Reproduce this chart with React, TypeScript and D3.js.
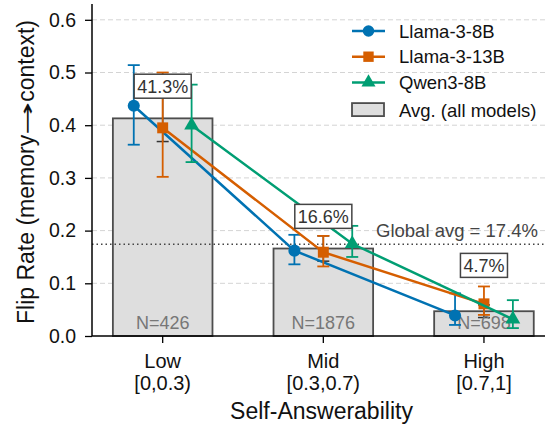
import { useRef, useEffect } from "react";
import * as d3 from "d3";

const categories = ["Low", "Mid", "High"];
const ranges = ["[0,0.3)", "[0.3,0.7)", "[0.7,1]"];
const counts = [426, 1876, 698];
const avgRate = [0.413, 0.166, 0.047];
const avgErr = [0.044, 0.024, 0.012];
const annotY = [0.474, 0.227, 0.134];
const globalAvg = 0.174;
const yTicks = [0, 0.1, 0.2, 0.3, 0.4, 0.5, 0.6];

const models = ["Llama-3-8B", "Llama-3-13B", "Qwen3-8B"];
const llama8Rate = [0.437, 0.162, 0.039];
const llama8Lo = [0.363, 0.136, 0.021];
const llama8Hi = [0.514, 0.192, 0.081];
const llama13Rate = [0.395, 0.159, 0.061];
const llama13Lo = [0.302, 0.132, 0.04];
const llama13Hi = [0.5, 0.19, 0.094];
const qwenRate = [0.4, 0.175, 0.032];
const qwenLo = [0.33, 0.15, 0.015];
const qwenHi = [0.477, 0.209, 0.068];

const colors = ["#0072B2", "#D55E00", "#009E73"];
const symbols = [d3.symbolCircle, d3.symbolSquare, d3.symbolTriangle];
const symbolSizes = [115, 120, 95];
const offsets = [-0.18, 0, 0.18];
const font = "'Liberation Sans', Arial, sans-serif";

export default function App() {
  const svgRef = useRef<SVGSVGElement>(null);

  useEffect(() => {
    if (!svgRef.current) return;
    const svg = d3.select(svgRef.current);
    svg.selectAll("*").remove();

    const left = 92, right = 545, top = 4, bottom = 336;
    const x = d3.scaleLinear().domain([-0.44, 2.38]).range([left, right]);
    const y = d3.scaleLinear().domain([0, 0.63]).range([bottom, top]);

    const series = [
      { rate: llama8Rate, lo: llama8Lo, hi: llama8Hi },
      { rate: llama13Rate, lo: llama13Lo, hi: llama13Hi },
      { rate: qwenRate, lo: qwenLo, hi: qwenHi },
    ];

    // grid
    svg.append("g")
      .selectAll("line")
      .data(yTicks.filter((t) => t > 0))
      .join("line")
      .attr("x1", left).attr("x2", right)
      .attr("y1", (d) => y(d)).attr("y2", (d) => y(d))
      .attr("stroke", "#d4d4d4").attr("stroke-width", 1)
      .attr("stroke-dasharray", "5,3");

    // bars
    const bw = 0.62;
    svg.append("g")
      .selectAll("rect")
      .data(avgRate)
      .join("rect")
      .attr("x", (_, i) => x(i - bw / 2))
      .attr("y", (d) => y(d))
      .attr("width", x(bw) - x(0))
      .attr("height", (d) => y(0) - y(d))
      .attr("fill", "#dedede")
      .attr("stroke", "#4d4d4d")
      .attr("stroke-width", 1.8);

    // bar error bars (mostly hidden)
    const be = svg.append("g").attr("stroke", "#333").attr("stroke-width", 1.5);
    avgRate.forEach((v, i) => {
      be.append("line").attr("x1", x(i)).attr("x2", x(i)).attr("y1", y(v - avgErr[i])).attr("y2", y(v + avgErr[i]));
      [v - avgErr[i], v + avgErr[i]].forEach((c) =>
        be.append("line").attr("x1", x(i) - 6).attr("x2", x(i) + 6).attr("y1", y(c)).attr("y2", y(c)));
    });

    // N labels
    svg.append("g")
      .selectAll("text")
      .data(counts)
      .join("text")
      .attr("x", (_, i) => x(i))
      .attr("y", y(0) - 7)
      .attr("text-anchor", "middle")
      .attr("font-family", font)
      .attr("font-size", 18)
      .attr("fill", "#777")
      .text((d) => `N=${d}`);

    // global avg
    svg.append("line")
      .attr("x1", left).attr("x2", right)
      .attr("y1", y(globalAvg)).attr("y2", y(globalAvg))
      .attr("stroke", "#444").attr("stroke-width", 1.5)
      .attr("stroke-dasharray", "1.5,3");
    svg.append("text")
      .attr("x", 538).attr("y", y(globalAvg) - 7.5)
      .attr("text-anchor", "end")
      .attr("font-family", font).attr("font-size", 18.5)
      .attr("fill", "#444")
      .text(`Global avg = ${(globalAvg * 100).toFixed(1)}%`);

    // series
    series.forEach((s, k) => {
      const g = svg.append("g");
      const pts = s.rate.map((v, i) => [x(i + offsets[k]), y(v)] as [number, number]);
      g.append("path")
        .attr("d", d3.line()(pts))
        .attr("fill", "none")
        .attr("stroke", colors[k])
        .attr("stroke-width", 2.5);
      s.rate.forEach((_, i) => {
        const cx = x(i + offsets[k]);
        g.append("line").attr("x1", cx).attr("x2", cx).attr("y1", y(s.lo[i])).attr("y2", y(s.hi[i]))
          .attr("stroke", colors[k]).attr("stroke-width", 1.8);
        [s.lo[i], s.hi[i]].forEach((c) =>
          g.append("line").attr("x1", cx - 6).attr("x2", cx + 6).attr("y1", y(c)).attr("y2", y(c))
            .attr("stroke", colors[k]).attr("stroke-width", 1.8));
      });
      g.selectAll("path.m")
        .data(pts)
        .join("path")
        .attr("class", "m")
        .attr("transform", (d) => `translate(${d[0]},${d[1]})`)
        .attr("d", d3.symbol().type(symbols[k]).size(symbolSizes[k])())
        .attr("fill", colors[k]);
    });

    // annotation boxes
    avgRate.forEach((v, i) => {
      const label = `${(v * 100).toFixed(1)}%`;
      const g = svg.append("g").attr("transform", `translate(${x(i)},${y(annotY[i])})`);
      const t = g.append("text")
        .attr("text-anchor", "middle").attr("dy", "0.36em")
        .attr("font-family", font).attr("font-size", 18)
        .attr("fill", "#333").text(label);
      const w = (t.node() as SVGTextElement).getComputedTextLength();
      g.insert("rect", "text")
        .attr("x", -w / 2 - 3).attr("y", -12)
        .attr("width", w + 6).attr("height", 24)
        .attr("fill", "#fff").attr("stroke", "#444").attr("stroke-width", 1.5);
    });

    // axes
    const ya = svg.append("g").attr("transform", `translate(${left},0)`)
      .call(d3.axisLeft(y).tickValues(yTicks).tickFormat(d3.format(".1f")).tickSize(7).tickPadding(9));
    ya.select(".domain").attr("stroke", "#000").attr("stroke-width", 1.5).attr("d", `M-0,${top}V${bottom}`);
    ya.selectAll(".tick line").attr("stroke", "#000").attr("stroke-width", 1.3);
    ya.selectAll("text").attr("font-family", font).attr("font-size", 19.5).attr("fill", "#111");

    const xa = svg.append("g").attr("transform", `translate(0,${bottom})`);
    xa.append("line").attr("x1", left).attr("x2", right).attr("stroke", "#000").attr("stroke-width", 1.5);
    categories.forEach((c, i) => {
      xa.append("line").attr("x1", x(i)).attr("x2", x(i)).attr("y1", 0).attr("y2", 7)
        .attr("stroke", "#000").attr("stroke-width", 1.3);
      const t = xa.append("text").attr("x", x(i)).attr("text-anchor", "middle")
        .attr("font-family", font).attr("font-size", 20).attr("fill", "#111");
      t.append("tspan").attr("x", x(i)).attr("y", 32).text(c);
      t.append("tspan").attr("x", x(i)).attr("y", 54).text(ranges[i]);
    });

    svg.append("text")
      .attr("x", (left + right) / 2 + 3).attr("y", 419)
      .attr("text-anchor", "middle")
      .attr("font-family", font).attr("font-size", 23).attr("fill", "#111")
      .text("Self-Answerability");
    const yl = svg.append("text")
      .attr("transform", `translate(34,${(top + bottom) / 2 + 2}) rotate(-90)`)
      .attr("text-anchor", "middle")
      .attr("font-family", font).attr("font-size", 23).attr("fill", "#111");
    yl.append("tspan").text("Flip Rate (memory");
    yl.append("tspan").attr("font-family", "'DejaVu Sans', sans-serif").attr("font-size", 20)
      .attr("textLength", 33).attr("lengthAdjust", "spacingAndGlyphs").text("\u2192");
    yl.append("tspan").text("context)");

    // legend
    const lg = svg.append("g").attr("transform", "translate(352,31)");
    models.forEach((m, k) => {
      const row = lg.append("g").attr("transform", `translate(0,${k * 25.7})`);
      row.append("line").attr("x1", 0).attr("x2", 33).attr("stroke", colors[k]).attr("stroke-width", 2.5);
      row.append("path").attr("transform", "translate(16.5,0)")
        .attr("d", d3.symbol().type(symbols[k]).size(symbolSizes[k] * 0.9)())
        .attr("fill", colors[k]);
      row.append("text").attr("x", 47).attr("dy", "0.36em")
        .attr("font-family", font).attr("font-size", 18.5).attr("fill", "#111").text(m);
    });
    const ar = lg.append("g").attr("transform", `translate(0,${3 * 25.7 + 2})`);
    ar.append("rect").attr("x", 0).attr("y", -7).attr("width", 32).attr("height", 13)
      .attr("fill", "#dedede").attr("stroke", "#4d4d4d").attr("stroke-width", 1.8);
    ar.append("text").attr("x", 47).attr("dy", "0.36em")
      .attr("font-family", font).attr("font-size", 18.5).attr("fill", "#111").text("Avg. (all models)");
  }, []);

  return (
    <div style={{ position: "fixed", left: 0, top: 0, background: "#fff" }}>
      <svg ref={svgRef} width={553} height={428} style={{ display: "block" }} />
    </div>
  );
}
